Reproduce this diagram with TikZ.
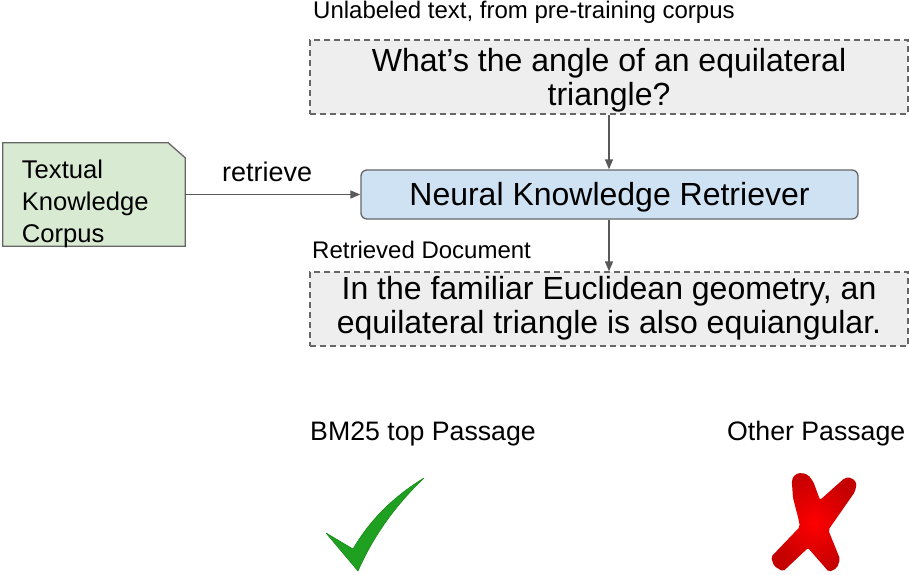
\documentclass[tikz,border=0pt]{standalone}
\usepackage{fontspec}
\setmainfont{Liberation Sans}
\usetikzlibrary{arrows.meta}

\definecolor{edgegray}{HTML}{666666}
\definecolor{arrowgray}{HTML}{595959}
\definecolor{boxgray}{HTML}{EEEEEE}
\definecolor{retrblue}{HTML}{CFE2F3}
\definecolor{corpusgreen}{HTML}{D9EAD3}
\definecolor{tickgreen}{HTML}{20A020}
\definecolor{tickedge}{HTML}{168A16}
\definecolor{crossred}{HTML}{FF0000}
\definecolor{crossdark}{HTML}{C40000}

\tikzset{
  textbox/.style={draw=edgegray, fill=boxgray, dash pattern=on 6pt off 4pt,
    line width=1.3pt, minimum width=598pt, minimum height=74pt, inner sep=0pt},
  boxtext/.style={inner sep=0pt, align=center, font=\fontsize{32}{34}\selectfont},
  retrbox/.style={draw=edgegray, fill=retrblue, rounded corners=6pt,
    line width=1.3pt, minimum width=497pt, minimum height=49pt, inner sep=0pt},
  smalllabel/.style={anchor=base west, inner sep=0pt, font=\fontsize{24}{28}\selectfont},
  midlabel/.style={anchor=base west, inner sep=0pt, font=\fontsize{26.7}{30}\selectfont},
  conn/.style={draw=arrowgray, line width=1.3pt,
    -{Triangle[length=10pt,width=8pt]}},
}

\begin{document}
\begin{tikzpicture}[x=1pt, y=-1pt]
\useasboundingbox (0,0) rectangle (910,575);

% query box and its caption
\node[smalllabel] (qcap) at (313,19) {Unlabeled text, from pre-training corpus};
\node[textbox] (query) at (609,77) {};
\node[boxtext, yshift=-3.5pt] (qtext) at (query.center)
  {What’s the angle of an equilateral\\triangle?};

% retriever
\node[retrbox] (retr) at (609.5,194.5) {};
\node[boxtext, yshift=-3pt] (rtext) at (retr.center) {Neural Knowledge Retriever};

% knowledge corpus: page with a cut top-right corner
\node[minimum width=182pt, minimum height=103pt, inner sep=0pt] (corpus) at (94,194.5) {};
\draw[edgegray, fill=corpusgreen, line width=1.3pt]
  (corpus.south west) -- (corpus.north west) -- ([xshift=-17pt]corpus.north east)
  -- ([yshift=-15pt]corpus.north east) -- (corpus.south east) -- cycle;
\node[anchor=north west, inner sep=0pt, align=left,
      font=\fontsize{25.6}{32}\selectfont] (corpustext) at (21.7,159.8)
  {Textual\\Knowledge\\Corpus};

% retrieve arrow
\node[anchor=base west, inner sep=0pt, font=\fontsize{27}{30}\selectfont]
  (retlabel) at (222,182) {retrieve};
\draw[conn] (corpus.east |- retr.west) -- (retr.west);

% retrieved document
\node[smalllabel] (dcap) at (312,258) {Retrieved Document};
\node[textbox] (doc) at (609,309) {};
\node[boxtext, yshift=0.5pt] (dtext) at (doc.center)
  {In the familiar Euclidean geometry, an\\equilateral triangle is also equiangular.};

\draw[conn] (query.south) -- (query.south |- retr.north);
\draw[conn] (query.south |- retr.south) -- (doc.north);

% passage labels
\node[midlabel] (bm25) at (310,440) {BM25 top Passage};
\node[midlabel] (other) at (727,440) {Other Passage};

% green tick
\fill[tickgreen, draw=tickedge, line width=0.6pt, line join=round]
  (326,533) -- (353,549)
  .. controls (370,520) and (393,497) .. (424,478)
  .. controls (401,500) and (376,530) .. (358,571) -- cycle;

% red cross
\shade[inner color=crossred, outer color=crossdark, rounded corners=2pt]
  (791.7,480) -- (795,474.3) -- (801.7,472.7) -- (808.3,475) -- (813.3,481.7)
  -- (820,500)
  -- (845,477.7) -- (851.7,477.7) -- (856.7,483) -- (855,491.7)
  -- (828.3,530)
  -- (840,559) -- (837,568) -- (829,572)
  -- (808,548)
  -- (783,571.5) -- (774,566) -- (771,557)
  -- (800,526.7) -- (798,517) -- (793,498) -- cycle;
\end{tikzpicture}
\end{document}
